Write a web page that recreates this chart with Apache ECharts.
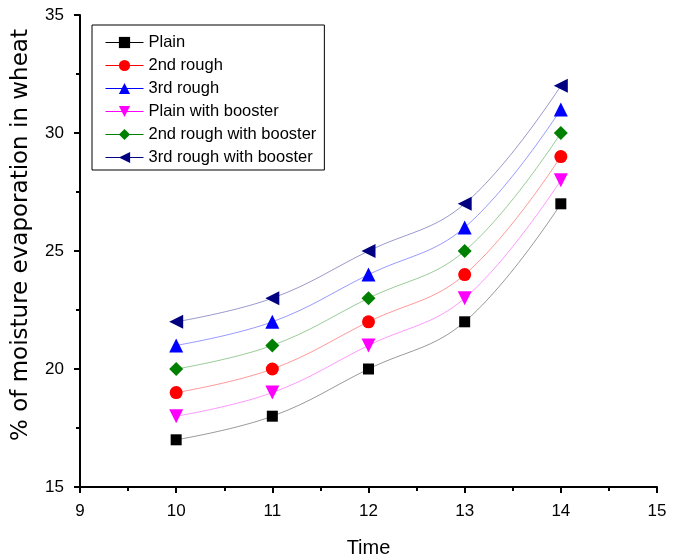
<!DOCTYPE html>
<html><head><meta charset="utf-8">
<script src="https://cdn.jsdelivr.net/npm/echarts@6/dist/echarts.min.js"></script>
<style>html,body{margin:0;padding:0;background:#fff}#c{width:681px;height:560px}</style>
</head><body><div id="c"></div>
<script>
var times = [10, 11, 12, 13, 14];
var seriesNames = ['Plain', '2nd rough', '3rd rough', 'Plain with booster', '2nd rough with booster', '3rd rough with booster'];
var plain = [17, 18, 20, 22, 27];
var rough2 = [19, 20, 22, 24, 29];
var rough3 = [21, 22, 24, 26, 31];
var plainBooster = [18, 19, 21, 23, 28];
var rough2Booster = [20, 21, 23, 25, 30];
var rough3Booster = [22, 23, 25, 27, 32];
var allValues = [plain, rough2, rough3, plainBooster, rough2Booster, rough3Booster];
var colors = ['#000000', '#ff0000', '#0000ff', '#ff00ff', '#008000', '#000080'];
var symbols = ['rect', 'circle', 'triangle', 'triangle', 'diamond', 'triangle'];
var rotations = [0, 0, 0, 180, 0, 90];
var sizes = [11, 13, 14, 14, 14, 14];

var chart = echarts.init(document.getElementById('c'));
var series = seriesNames.map(function(n, i){
  return {
    name: n, type: 'line', smooth: 0.4,
    data: times.map(function(t, j){ return [t, allValues[i][j]]; }),
    symbol: symbols[i], symbolRotate: rotations[i], symbolSize: sizes[i],
    itemStyle: {color: colors[i]},
    lineStyle: {color: colors[i], width: 1, opacity: 0.4},
    emphasis: {disabled: true}
  };
});
var font = 'Liberation Sans, Arial, sans-serif';
chart.setOption({
  animation: false,
  backgroundColor: '#fff',
  grid: {left: 80, right: 24, top: 15, bottom: 73, containLabel: false, outerBoundsMode: 'none'},
  legend: {
    orient: 'vertical', left: 92, top: 25,
    padding: [9, 8, 4, 13],
    itemGap: 6, itemWidth: 38, itemHeight: 14,
    borderColor: '#000', borderWidth: 1,
    textStyle: {fontFamily: font, fontSize: 16.5, color: '#000'},
    lineStyle: {opacity: 1, width: 1},
    data: seriesNames
  },
  xAxis: {
    type: 'value', min: 9, max: 15, interval: 1,
    name: 'Time', nameLocation: 'middle', nameGap: 51,
    nameTextStyle: {fontFamily: font, fontSize: 20, color: '#000'},
    axisLine: {lineStyle: {color: '#000', width: 2}},
    axisTick: {show: true, inside: false, length: 6, lineStyle: {color: '#000', width: 2}},
    minorTick: {show: true, splitNumber: 2, length: 4, lineStyle: {color: '#000', width: 2}},
    axisLabel: {fontFamily: font, fontSize: 17, color: '#000', margin: 16},
    splitLine: {show: false}
  },
  yAxis: {
    type: 'value', min: 15, max: 35, interval: 5,
    name: '% of moisture evaporation in wheat', nameLocation: 'middle', nameGap: 47, nameRotate: 90,
    nameTextStyle: {fontFamily: 'DejaVu Sans, sans-serif', fontSize: 23, color: '#000', padding: [0, 0, 0, 32]},
    axisLine: {show: true, lineStyle: {color: '#000', width: 2}},
    axisTick: {show: true, inside: false, length: 6, lineStyle: {color: '#000', width: 2}},
    minorTick: {show: true, splitNumber: 2, length: 4, lineStyle: {color: '#000', width: 2}},
    axisLabel: {fontFamily: font, fontSize: 17, color: '#000', margin: 16},
    splitLine: {show: false}
  },
  series: series
});
</script></body></html>
